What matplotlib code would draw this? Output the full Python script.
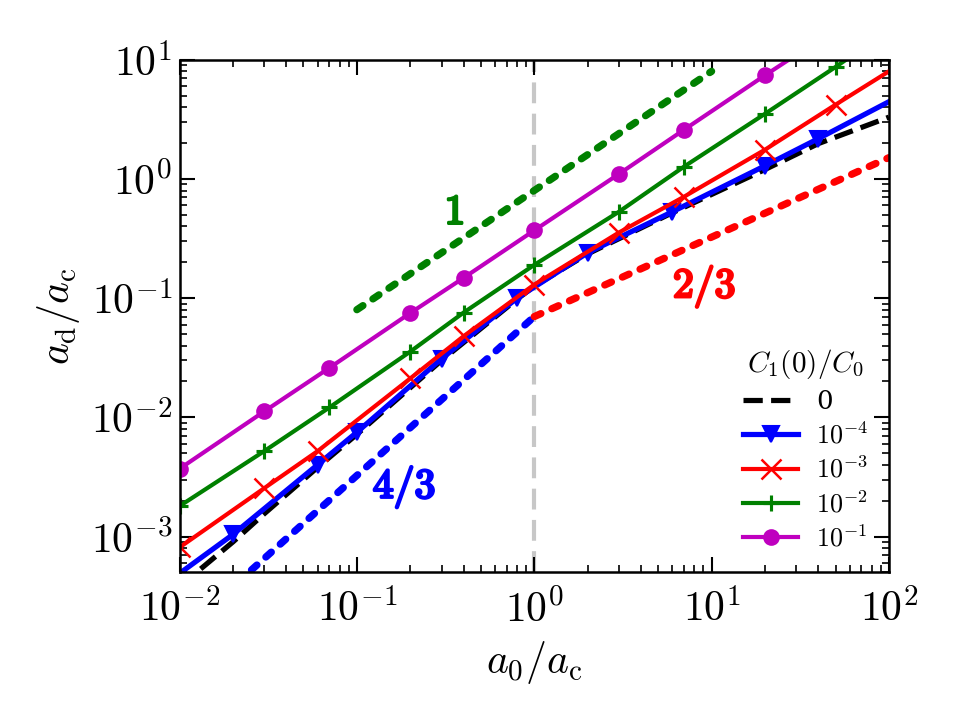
import numpy as np
import matplotlib
matplotlib.use('Agg')
import matplotlib.pyplot as plt
from matplotlib import ticker
import matplotlib.patheffects as pe

plt.rcParams['mathtext.fontset'] = 'cm'
plt.rcParams['font.family'] = 'serif'
plt.rcParams['font.serif'] = ['DejaVu Serif']

# curves: a0/ac -> ad/ac
x_c0 = [0.01, 0.02, 0.03, 0.06, 0.1, 0.3, 0.8, 1, 2, 6, 20, 40, 100]
y_c0 = [3.8e-4, 9.0e-4, 1.55e-3, 3.8e-3, 7.2e-3, 0.030, 0.098, 0.126, 0.235, 0.52, 1.2, 1.98, 3.3]

x_c4 = [0.01, 0.02, 0.06, 0.1, 0.3, 0.8, 2, 6, 20, 40, 100]
y_c4 = [4.9e-4, 1.04e-3, 4.0e-3, 7.5e-3, 0.031, 0.10, 0.24, 0.53, 1.29, 2.18, 4.45]

x_c3 = [0.01, 0.03, 0.06, 0.2, 0.4, 1, 3, 7, 20, 50, 100]
y_c3 = [8.1e-4, 2.54e-3, 5.2e-3, 0.0212, 0.048, 0.13, 0.355, 0.71, 1.76, 4.2, 8.0]

x_c2 = [0.01, 0.03, 0.07, 0.2, 0.4, 1, 3, 7, 20, 50, 60]
y_c2 = [1.8e-3, 5.2e-3, 0.0121, 0.0356, 0.0757, 0.19, 0.53, 1.27, 3.52, 8.7, 10.5]

x_c1 = [0.01, 0.03, 0.07, 0.2, 0.4, 1, 3, 7, 20, 30]
y_c1 = [3.7e-3, 0.0112, 0.026, 0.075, 0.148, 0.37, 1.1, 2.59, 7.4, 11.0]

# guide lines (slopes 1, 2/3, 4/3)
x_s1 = [0.1, 10]
y_s1 = [0.08, 8.0]
x_s23 = [1, 100]
y_s23 = [0.07, 1.51]
x_s43 = [0.01, 1]
y_s43 = [1.51e-4, 0.07]

labels = ['0', r'$10^{-4}$', r'$10^{-3}$', r'$10^{-2}$', r'$10^{-1}$']

fig = plt.figure(figsize=(6.4, 4.8), dpi=150)
ax = fig.add_axes([0.187, 0.205, 0.739, 0.712])

ax.axvline(1, color='0.78', lw=2, ls='--', dashes=(5, 2.5), zorder=1)

ax.plot(x_s43, y_s43, color='blue', lw=3.5, ls=':', dash_capstyle='round')
ax.plot(x_s23, y_s23, color='red', lw=3.5, ls=':', dash_capstyle='round')
ax.plot(x_s1, y_s1, color='green', lw=3.5, ls=':', dash_capstyle='round')

ax.plot(x_c0, y_c0, 'k--', lw=2.5, label=labels[0])
ax.plot(x_c4, y_c4, color='blue', lw=2.5, marker='v', ms=8,
        markevery=list(range(1, len(x_c4) - 1)), label=labels[1])
ax.plot(x_c3, y_c3, color='red', lw=2, marker='x', ms=10, mew=1.2,
        markevery=list(range(0, len(x_c3) - 1)), label=labels[2])
ax.plot(x_c2, y_c2, color='green', lw=2, marker='+', ms=8, mew=1.5,
        markevery=list(range(0, len(x_c2) - 1)), label=labels[3])
ax.plot(x_c1, y_c1, color='m', lw=2, marker='o', ms=7,
        markevery=list(range(0, len(x_c1) - 1)), label=labels[4])

for s, xx, yy, c in [(r'$1$', 0.354, 0.53, 'green'),
                     (r'$2/3$', 9.1, 0.125, 'red'),
                     (r'$4/3$', 0.185, 2.6e-3, 'blue')]:
    ax.text(xx, yy, s, color=c, fontsize=20, ha='center', va='center',
            path_effects=[pe.withStroke(linewidth=1.3, foreground=c)])

ax.set_xscale('log')
ax.set_yscale('log')
ax.set_xlim(1e-2, 1e2)
ax.set_ylim(5e-4, 1e1)

fmt = ticker.FuncFormatter(lambda v, p: r'$10^{%d}$' % int(round(np.log10(v))))
ax.xaxis.set_major_formatter(fmt)
ax.yaxis.set_major_formatter(fmt)
ax.xaxis.set_minor_locator(ticker.LogLocator(base=10, subs=np.arange(2, 10), numticks=20))
ax.yaxis.set_minor_locator(ticker.LogLocator(base=10, subs=np.arange(2, 10), numticks=20))
ax.xaxis.set_minor_formatter(ticker.NullFormatter())
ax.yaxis.set_minor_formatter(ticker.NullFormatter())
ax.tick_params(which='both', direction='in', top=True, right=True, labelsize=20)
ax.tick_params(which='major', length=7, width=1)
ax.tick_params(which='minor', length=3.5, width=0.8)
ax.tick_params(axis='x', pad=8)
for s in ax.spines.values():
    s.set_linewidth(1.2)

ax.set_xlabel(r'$a_0/a_\mathrm{c}$', fontsize=20)
ax.set_ylabel(r'$a_\mathrm{d}/a_\mathrm{c}$', fontsize=20)

leg = ax.legend(loc='lower right', frameon=False, fontsize=12.5,
                title=r'$C_1(0)/C_0$', title_fontsize=14,
                handlelength=2.1, handletextpad=0.7, labelspacing=0.3,
                borderaxespad=0.4)

fig.savefig('out.png', dpi=150)
